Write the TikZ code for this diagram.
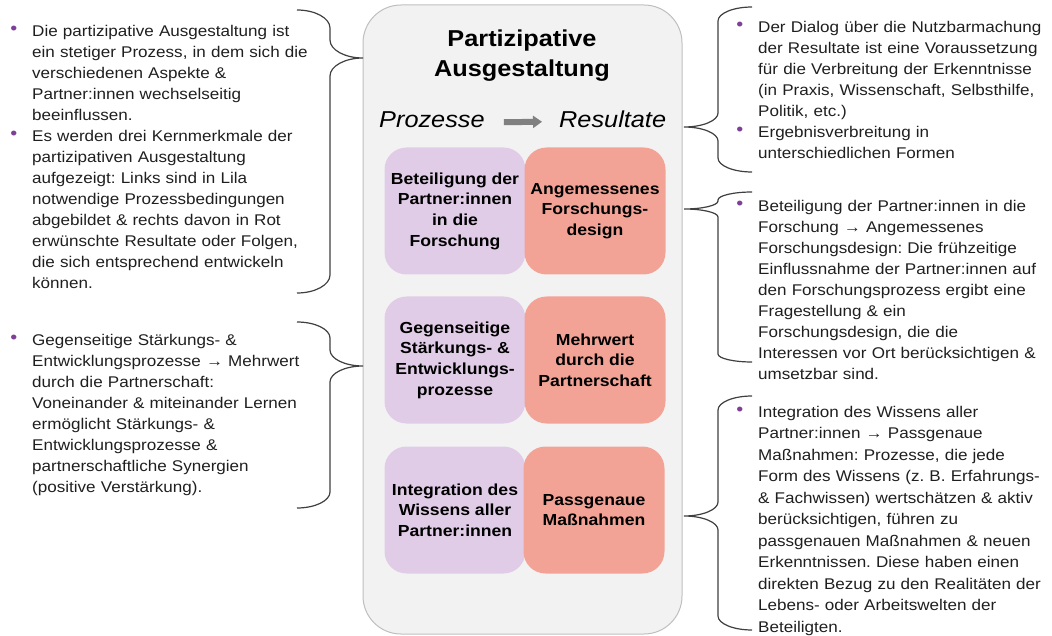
\documentclass[tikz,border=0pt]{standalone}
\usepackage{fontspec}
\setmainfont[FakeStretch=1.1]{Liberation Sans}
\usetikzlibrary{calc,arrows.meta}
\definecolor{rahmengrau}{HTML}{F2F2F2}
\definecolor{randgrau}{HTML}{BFBFBF}
\definecolor{lila}{HTML}{E1CCE7}
\definecolor{rot}{HTML}{F2A395}
\definecolor{punktlila}{HTML}{7F3F98}
\definecolor{schrift}{HTML}{1F1F1F}
\definecolor{pfeilgrau}{HTML}{808080}
\definecolor{klammergrau}{HTML}{3F3F3F}
\frenchspacing
\def\pkt{\leavevmode\llap{\textcolor{punktlila}{\raisebox{2pt}{\fontsize{18}{18}\selectfont\textbullet}}\hspace{15pt}}}
\def\klammer(#1:#2:#3)(#4:#5:#6){\draw[klammerlinie] (#1,#4) .. controls ({#1+0.55*(#2)},#4) and ({#1+(#2)},{#4+0.45*#3}) .. ({#1+(#2)},{#4+#3}) -- ({#1+(#2)},{#5-#3}) .. controls ({#1+(#2)},{#5-0.45*#3}) and ({#1+1.45*(#2)},#5) .. ({#1+2*(#2)},#5) .. controls ({#1+1.45*(#2)},#5) and ({#1+(#2)},{#5+0.45*#3}) .. ({#1+(#2)},{#5+#3}) -- ({#1+(#2)},{#6-#3}) .. controls ({#1+(#2)},{#6-0.45*#3}) and ({#1+0.55*(#2)},#6) .. (#1,#6);}

\begin{document}
\begin{tikzpicture}[x=1pt, y=-1pt,
		rahmen/.style={draw=randgrau, line width=1pt, fill=rahmengrau, rounded corners=38pt, minimum width=319pt, minimum height=629pt},
		kachel/.style={rounded corners=22pt, minimum width=141pt, minimum height=127pt, inner sep=0pt, align=center, font=\fontsize{16}{20.7}\selectfont\bfseries},
		prozess/.style={kachel, fill=lila},
		resultat/.style={kachel, fill=rot},
		liste/.style={anchor=base west, inner sep=0pt, text width=320pt, align=left, text=schrift, font=\fontsize{15.5}{21}\selectfont},
		klammerlinie/.style={draw=klammergrau, line width=1.2pt},
		pfeil/.style={draw=pfeilgrau, line width=6pt, -{Triangle[length=9pt,width=12pt]}}]
		%%%%% START %%%%%
		
		\useasboundingbox (0,0) rectangle (1052,636);
		
		\node[rahmen] (ausgestaltung) at (522.5,319.5) {};
		
		\node[anchor=base, inner sep=0pt, text width=300pt, align=center, font=\fontsize{23}{30}\selectfont\bfseries] (titel) at (522,47) {Partizipative\\Ausgestaltung};
		\node[anchor=base west, inner sep=0pt, font=\fontsize{23}{28}\selectfont\itshape] (proz) at (379,128) {Prozesse};
		\node[anchor=base west, inner sep=0pt, font=\fontsize{23}{28}\selectfont\itshape] (res) at (559,128) {Resultate};
		\draw[pfeil] ([xshift=19pt,yshift=-2pt]proz.east) -- ([xshift=-17pt,yshift=-2pt]res.west);
		
		\node[prozess] (p1) at (455,211) {Beteiligung der\\Partner:innen\\in die\\Forschung};
		\node[resultat] (r1) at (595,211) {Angemessenes\\Forschungs-\\design};
		\node[prozess] (p2) at (455,360) {Gegenseitige\\Stärkungs- \&\\Entwicklungs-\\prozesse};
		\node[resultat] (r2) at (595,360) {Mehrwert\\durch die\\Partnerschaft};
		\node[prozess] (p3) at (455,510) {Integration des\\Wissens aller\\Partner:innen};
		\node[resultat] (r3) at (594,510) {Passgenaue\\Maßnahmen};
		
		\node[liste] (links1) at (32,37) {\pkt Die partizipative Ausgestaltung ist\\ein stetiger Prozess, in dem sich die\\verschiedenen Aspekte \&\\Partner:innen wechselseitig\\beeinflussen.\\\pkt Es werden drei Kernmerkmale der\\partizipativen Ausgestaltung\\aufgezeigt: Links sind in Lila\\notwendige Prozessbedingungen\\abgebildet \& rechts davon in Rot\\erwünschte Resultate oder Folgen,\\die sich entsprechend entwickeln\\können.};
		\node[liste] (links2) at (32,345) {\pkt Gegenseitige Stärkungs- \&\\Entwicklungsprozesse → Mehrwert\\durch die Partnerschaft:\\Voneinander \& miteinander Lernen\\ermöglicht Stärkungs- \&\\Entwicklungsprozesse \&\\partnerschaftliche Synergien\\(positive Verstärkung).};
		
		\node[liste] (rechts1) at (758,33) {\pkt Der Dialog über die Nutzbarmachung\\der Resultate ist eine Voraussetzung\\für die Verbreitung der Erkenntnisse\\(in Praxis, Wissenschaft, Selbsthilfe,\\Politik, etc.)\\\pkt Ergebnisverbreitung in\\unterschiedlichen Formen};
		\node[liste] (rechts2) at (758,212) {\pkt Beteiligung der Partner:innen in die\\Forschung → Angemessenes\\Forschungsdesign: Die frühzeitige\\Einflussnahme der Partner:innen auf\\den Forschungsprozess ergibt eine\\Fragestellung \& ein\\Forschungsdesign, die die\\Interessen vor Ort berücksichtigen \&\\umsetzbar sind.};
		\node[liste, font=\fontsize{15.5}{21.5}\selectfont] (rechts3) at (758,417) {\pkt Integration des Wissens aller\\Partner:innen → Passgenaue\\Maßnahmen: Prozesse, die jede\\Form des Wissens (z. B. Erfahrungs-\\\& Fachwissen) wertschätzen \& aktiv\\berücksichtigen, führen zu\\passgenauen Maßnahmen \& neuen\\Erkenntnissen. Diese haben einen\\direkten Bezug zu den Realitäten der\\Lebens- oder Arbeitswelten der\\Beteiligten.};
		
		% Klammern
		\klammer(297:33:18)(10:58:293);
		\klammer(297:33:16)(322:366:508);
		\klammer(752:-34:14)(7:127:172);
		\klammer(752:-34:8)(192:209:362);
		\klammer(752:-34:14)(396:516:630);
		
		%%%%% END %%%%%
	\end{tikzpicture}
\end{document}
